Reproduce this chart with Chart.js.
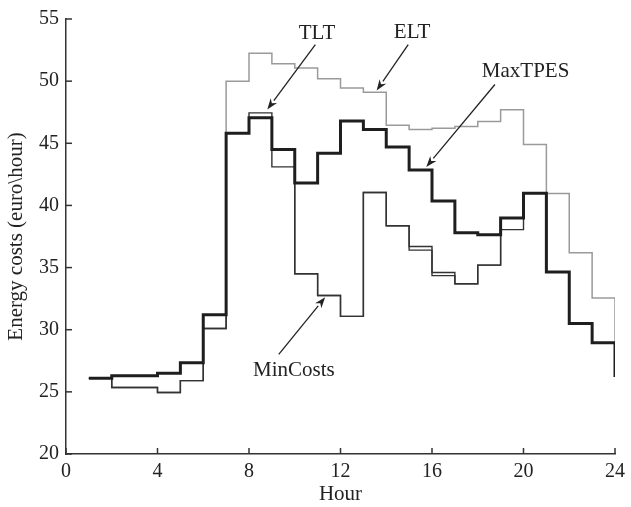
<!DOCTYPE html>
<html>
<head>
<meta charset="utf-8">
<script src="https://cdn.jsdelivr.net/npm/chart.js@4"></script>
<style>
  html, body { margin: 0; padding: 0; background: #fff; }
  #wrap { width: 631px; height: 507px; }
</style>
</head>
<body>
<div id="wrap"><canvas id="costChart"></canvas></div>
<script>
// hours and step values (euro/hour)
const hours = [1, 2, 3, 4, 5, 6, 7, 8, 9, 10, 11, 12, 13, 14, 15, 16, 17, 18, 19, 20, 21, 22, 23, 24];
const maxTPES = [26.1, 26.3, 26.3, 26.5, 27.35, 31.2, 45.8, 47.05, 44.5, 41.8, 44.2, 46.8, 46.1, 44.7, 42.85, 40.35, 37.8, 37.65, 38.98, 40.98, 34.65, 30.5, 28.96, 26.2];
const tlt = [26.1, 25.35, 25.35, 24.95, 25.9, 30.1, 45.8, 47.45, 44.5, 34.5, 32.75, 31.07, 41.04, 38.36, 36.7, 34.6, 33.7, 35.2, 38.98, 40.98, 34.65, 30.5, 28.96, 26.2];
const minCosts = [26.1, 25.35, 25.35, 24.95, 25.9, 30.1, 45.8, 47.05, 43.1, 34.5, 32.75, 31.07, 41.04, 38.36, 36.4, 34.35, 33.7, 35.2, 38.05, 40.98, 34.65, 30.5, 28.96, 26.2];
const elt = [26.1, 26.3, 26.3, 26.5, 27.35, 31.2, 50.0, 52.25, 51.4, 51.05, 50.2, 49.45, 49.1, 46.45, 46.1, 46.2, 46.35, 46.75, 47.7, 44.9, 40.95, 36.2, 32.55, 29.0];
const xTicks = [0, 4, 8, 12, 16, 20, 24];
const yTicks = [20, 25, 30, 35, 40, 45, 50, 55];

// labels with arrows, in data units: text pos, arrow start, arrow tip
const notes = [
  { text: 'TLT', at: [10.97, 53.84], from: [10.9, 52.93], to: [8.8, 47.72] },
  { text: 'ELT', at: [15.13, 53.88], from: [14.96, 52.93], to: [13.58, 49.25] },
  { text: 'MaxTPES', at: [20.09, 50.75], from: [18.75, 49.73], to: [15.75, 43.1] },
  { text: 'MinCosts', at: [9.96, 26.7], from: [9.3, 28.02], to: [11.33, 32.61] }
];

const serif = '"Liberation Serif", "DejaVu Serif", serif';
const axisColor = '#333';

function pts(vals) {
  return hours.map((h, i) => ({ x: h, y: vals[i] }));
}

// inward tick marks + annotation arrows
const extras = {
  id: 'extras',
  afterDraw(chart) {
    const ctx = chart.ctx;
    const xs = chart.scales.x, ys = chart.scales.y;
    const area = chart.chartArea;
    ctx.save();
    ctx.strokeStyle = axisColor;
    ctx.lineWidth = 1.5;
    xTicks.forEach(t => {
      const px = xs.getPixelForValue(t);
      ctx.beginPath();
      ctx.moveTo(px, area.bottom);
      ctx.lineTo(px, area.bottom - 6);
      ctx.stroke();
    });
    yTicks.forEach(t => {
      const py = ys.getPixelForValue(t);
      ctx.beginPath();
      ctx.moveTo(area.left, py);
      ctx.lineTo(area.left + 6, py);
      ctx.stroke();
    });

    ctx.font = '21px ' + serif;
    ctx.textAlign = 'center';
    ctx.textBaseline = 'middle';
    notes.forEach(n => {
      ctx.fillStyle = '#222';
      ctx.fillText(n.text, xs.getPixelForValue(n.at[0]), ys.getPixelForValue(n.at[1]));
      const x0 = xs.getPixelForValue(n.from[0]), y0 = ys.getPixelForValue(n.from[1]);
      const x1 = xs.getPixelForValue(n.to[0]), y1 = ys.getPixelForValue(n.to[1]);
      const ang = Math.atan2(y1 - y0, x1 - x0);
      const len = 11, half = 4;
      const bx = x1 - len * Math.cos(ang), by = y1 - len * Math.sin(ang);
      ctx.strokeStyle = '#222';
      ctx.lineWidth = 1.3;
      ctx.beginPath();
      ctx.moveTo(x0, y0);
      ctx.lineTo(bx, by);
      ctx.stroke();
      ctx.beginPath();
      ctx.moveTo(x1, y1);
      ctx.lineTo(bx + half * Math.sin(ang), by - half * Math.cos(ang));
      ctx.lineTo(x1 - 0.7 * len * Math.cos(ang), y1 - 0.7 * len * Math.sin(ang));
      ctx.lineTo(bx - half * Math.sin(ang), by + half * Math.cos(ang));
      ctx.closePath();
      ctx.fill();
    });
    ctx.restore();
  }
};

new Chart(document.getElementById('costChart'), {
  type: 'line',
  data: {
    datasets: [
      { label: 'MaxTPES', data: pts(maxTPES), borderColor: '#1e1e1e', borderWidth: 3, order: 0 },
      { label: 'TLT', data: pts(tlt), borderColor: '#333', borderWidth: 1.4, order: 1 },
      { label: 'MinCosts', data: pts(minCosts), borderColor: '#333', borderWidth: 1.4, order: 2 },
      { label: 'ELT', data: pts(elt), borderColor: '#9a9a9a', borderWidth: 1.5, order: 3 }
    ]
  },
  options: {
    responsive: true,
    maintainAspectRatio: false,
    animation: false,
    layout: { padding: { top: 17, right: 13, left: 0, bottom: 0 } },
    elements: {
      line: { stepped: 'before', fill: false, tension: 0 },
      point: { radius: 0 }
    },
    plugins: {
      legend: { display: false },
      tooltip: { enabled: false }
    },
    scales: {
      x: {
        type: 'linear',
        min: 0,
        max: 24,
        afterFit: s => { s.height = 53; },
        afterBuildTicks: s => { s.ticks = xTicks.map(v => ({ value: v })); },
        grid: { display: false, drawTicks: false },
        border: { display: true, color: axisColor, width: 1.5 },
        ticks: { padding: 6, color: '#222', font: { family: serif, size: 20 } },
        title: { display: true, text: 'Hour', color: '#222', padding: { top: 0, bottom: 0 }, font: { family: serif, size: 21 } }
      },
      y: {
        min: 20,
        max: 55,
        afterFit: s => { s.width = 66; },
        afterBuildTicks: s => { s.ticks = yTicks.map(v => ({ value: v })); },
        grid: { display: false, drawTicks: false },
        border: { display: true, color: axisColor, width: 1.5 },
        ticks: { padding: 7, color: '#222', font: { family: serif, size: 20 } },
        title: { display: true, text: 'Energy costs (euro\\hour)', color: '#222', padding: { top: 4, bottom: 0 }, font: { family: serif, size: 21 } }
      }
    }
  },
  plugins: [extras]
});
</script>
</body>
</html>
